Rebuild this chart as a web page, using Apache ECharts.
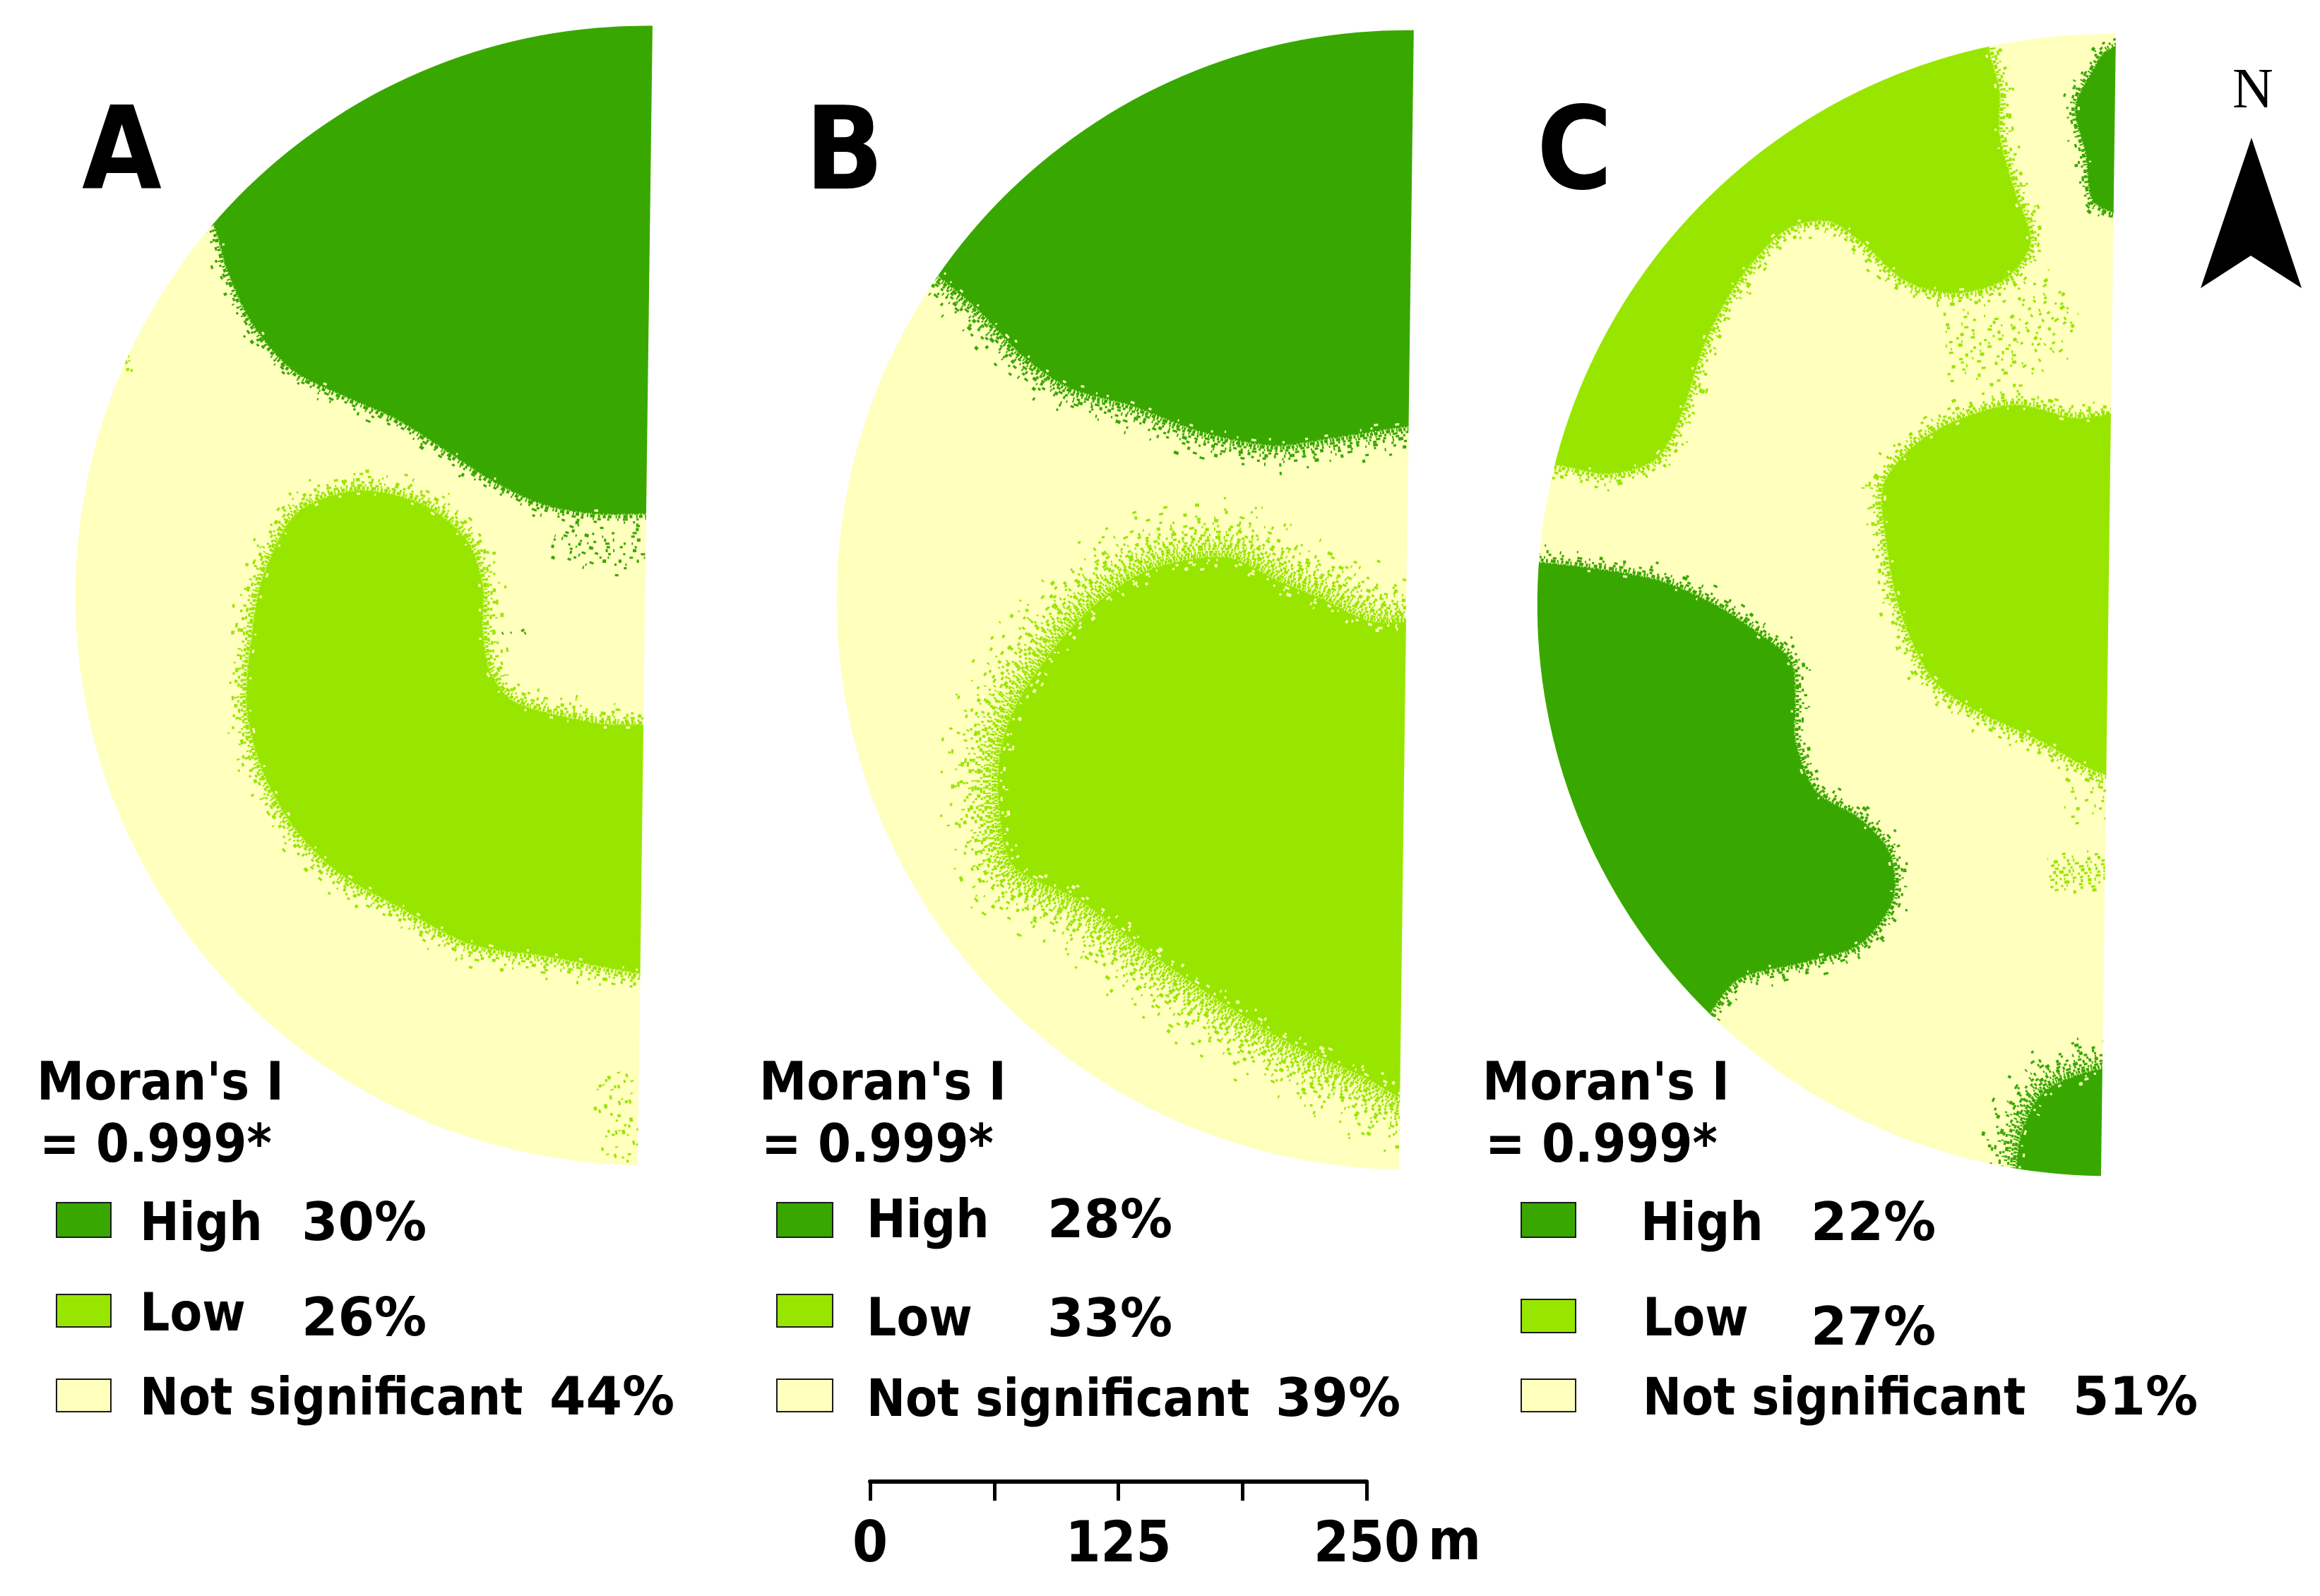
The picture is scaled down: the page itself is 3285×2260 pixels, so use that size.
<!DOCTYPE html>
<html><head><meta charset="utf-8">
<style>html,body{margin:0;padding:0;background:#fff}#c{width:3285px;height:2260px}</style>
<script src="https://cdn.jsdelivr.net/npm/echarts@6/dist/echarts.min.js"></script>
</head><body><div id="c"></div>
<script>
// ---- data: class names, shares and zone outlines (map units) ----
const legendNames = ['High', 'Low', 'Not significant'];
const panelNames = ['A', 'B', 'C'];
const shareA = [30, 26, 44];
const shareB = [28, 33, 39];
const shareC = [22, 27, 51];
const moranLine1 = "Moran's I";
const moranLine2 = '= 0.999*';
const scaleTicks = [0, 62.5, 125, 187.5, 250];
const discA = [436, 402.5, 385];
const discB = [950.5, 405.5, 385];
const discC = [1425, 409, 386];
const highA = [[130,140],[100,-20],[470,-20],[470,347],[437,347],[402,347],[368,341],[335,326],[301,304],[268,283],[234,268],[198,250],[171,219],[154,183],[144,151]];
const lowA = [[241,332],[285,341],[315,365],[326,396],[326,426],[331,454],[348,475],[402,489],[470,500],[470,662],[433,658],[368,646],[318,638],[268,612],[228,589],[198,558],[177,519],[167,477],[171,426],[178,390],[201,347]];
const highB = [[610,165],[590,-20],[990,-20],[990,288],[953,288],[925,292],[893,297],[861,301],[813,292],[765,274],[723,262],[691,240],[662,210],[634,186]];
const lowB = [[688,475],[704,450],[723,426],[749,402],[781,384],[829,377],[864,393],[893,405],[925,420],[985,430],[985,760],[947,742],[920,727],[870,704],[819,673],[769,638],[729,608],[685,585],[675,540],[677,505]];
const highC1 = [[1000,378],[1034,380],[1080,385],[1122,393],[1157,408],[1185,426],[1210,447],[1213,477],[1213,500],[1227,535],[1257,554],[1277,577],[1279,608],[1257,638],[1220,650],[1176,661],[1158,681],[1140,710],[1000,700]];
const highC2 = [[1425,34],[1414,49],[1403,73],[1410,104],[1414,134],[1425,142],[1460,145],[1460,28]];
const highC3 = [[1460,723],[1420,723],[1382,738],[1367,765],[1363,792],[1365,820],[1460,820]];
const lowC1 = [[1344,-20],[1344,33],[1351,61],[1351,91],[1361,128],[1372,164],[1354,189],[1319,198],[1287,189],[1259,164],[1235,149],[1207,155],[1182,180],[1164,207],[1150,237],[1136,280],[1119,310],[1087,320],[1052,314],[1010,312],[1010,-20]];
const lowC2 = [[1460,283],[1403,283],[1361,274],[1319,286],[1291,304],[1273,329],[1275,365],[1284,411],[1305,457],[1330,477],[1378,500],[1422,523],[1460,523]];
const speckHighA = [[375,362],[405,372],[436,372]];
const speckHighA2 = [[340,432],[362,420]];
const speckLowA = [[412,725],[420,755],[428,785]];
const speckDotA = [[85,240],[88,252]];
const speckLowC = [[1315,235],[1360,232],[1400,205]];
const speckLowC2 = [[1385,592],[1405,590],[1425,588]];
const speckLowC3 = [[1395,545],[1425,540]];

// ---- styles and layout ----
const HIGH = '#38A800', LOW = '#98E600', NOTSIG = '#FFFFBE';
const TILT = 0.745 * Math.PI / 180;
const FONT = '"DejaVu Sans Condensed","DejaVu Sans",sans-serif';
const FONT_NUM = '"DejaVu Sans",sans-serif';
const ON = [3,5,2,4,6,3,2,5,4,3,7,2];
const GAP = [1,.6,1.5,.8,1.2,.5,1.7,.9,1.1,1.4,.7,1.3];
const ROW = 4;            // px between stipple rows

function dashFor(p) {
  const out = [];
  const g = 3.8 * (1 / p - 1);
  ON.forEach((a, i) => { out.push(a, Math.max(1, GAP[i] * g)); });
  return out;
}
function offsetPts(pts, d, closed) {
  const n = pts.length, res = [];
  for (let i = 0; i < n; i++) {
    const a = pts[closed ? (i - 1 + n) % n : Math.max(i - 1, 0)];
    const b = pts[closed ? (i + 1) % n : Math.min(i + 1, n - 1)];
    const tx = b[0] - a[0], ty = b[1] - a[1], l = Math.hypot(tx, ty) || 1;
    res.push([pts[i][0] + d * ty / l, pts[i][1] - d * tx / l]);
  }
  return res;
}
function area(pts) {
  let s = 0;
  pts.forEach((p, i) => { const q = pts[(i + 1) % pts.length]; s += p[0] * q[1] - q[0] * p[1]; });
  return s;
}
function clipOf(api, disc) {
  const c = api.coord([disc[0], disc[1]]);
  const r = api.size([disc[2], 0])[0];
  return { type: 'sector', shape: { cx: c[0], cy: c[1], r0: 0, r, startAngle: Math.PI / 2 + TILT, endAngle: Math.PI * 1.5 + TILT, clockwise: true } };
}
function rowEl(pts, color, p, k, smooth, closed) {
  return {
    type: closed ? 'polygon' : 'polyline', shape: { points: pts, smooth },
    style: { fill: 'none', stroke: color, lineWidth: k % 3 === 1 ? 4.6 : 3.2, lineDash: dashFor(p), lineDashOffset: (k * 41) % 97, lineCap: 'butt', lineJoin: 'round' }
  };
}
function regionSeries(points, disc, color, fringe, smooth) {
  return {
    type: 'custom', xAxisIndex: 0, yAxisIndex: 0, clip: false, silent: true,
    data: points, encode: { x: 0, y: 1 },
    renderItem(params, api) {
      if (params.dataIndex !== 0) return null;
      const pts = points.map(p => api.coord(p));
      const unit = api.size([1, 0])[0];
      const sign = area(pts) > 0 ? 1 : -1;   // outward normal side
      const children = [];
      const fpx = fringe * unit;
      for (let k = 0, d = 0; d < fpx; k++, d += ROW) {
        const t = d / fpx;
        children.push(rowEl(offsetPts(pts, sign * d, true), color, Math.max(0.035, 0.8 * Math.pow(1 - t, 2)), k, smooth, true));
      }
      children.push({ type: 'polygon', shape: { points: pts, smooth }, style: { fill: color, stroke: null } });
      const inner = fpx * 0.22;
      for (let k = 1, d = ROW; d < inner; k++, d += ROW) {
        children.push(rowEl(offsetPts(pts, -sign * d, true), NOTSIG, Math.max(0.03, 0.22 * (1 - d / inner)), k + 7, smooth, true));
      }
      return { type: 'group', clipPath: clipOf(api, disc), children };
    }
  };
}
function speckSeries(points, disc, color, width, density) {
  return {
    type: 'custom', xAxisIndex: 0, yAxisIndex: 0, clip: false, silent: true,
    data: points, encode: { x: 0, y: 1 },
    renderItem(params, api) {
      if (params.dataIndex !== 0) return null;
      const pts = points.map(p => api.coord(p));
      const w = width * api.size([1, 0])[0];
      const children = [];
      for (let k = 0, d = -w / 2; d < w / 2; k++, d += ROW + 1) {
        const t = Math.abs(d) / (w / 2);
        children.push(rowEl(offsetPts(pts, d, false), color, Math.max(0.03, density * (1 - t * t)), k + 3, 0, false));
      }
      return { type: 'group', clipPath: clipOf(api, disc), children };
    }
  };
}
function discSeries(disc) {
  return {
    type: 'custom', xAxisIndex: 0, yAxisIndex: 0, clip: false, silent: true,
    data: [[disc[0], disc[1]]], encode: { x: 0, y: 1 },
    renderItem(params, api) {
      const cl = clipOf(api, disc);
      return { type: 'sector', shape: cl.shape, style: { fill: NOTSIG } };
    }
  };
}
function txt(s, x, base, size, family) {
  return {
    type: 'text', x, y: base - 0.266 * size, silent: true,
    style: { text: s, fill: '#000', font: 'bold ' + size + 'px ' + (family || FONT), align: 'left', verticalAlign: 'middle' }
  };
}
function swatch(x0, x1, y0, y1, fill) {
  return { type: 'rect', silent: true, shape: { x: x0, y: y0, width: x1 - x0, height: y1 - y0 }, style: { fill, stroke: '#1a1a1a', lineWidth: 2 } };
}
const layout = [
  { share: shareA, m1: 52, m2: 56, sw: [80, 157], swY: [[1703,1752],[1833,1879],[1953,1999]],
    nameX: [198,198,198], nameB: [1756,1884,2003], pctX: [427,427,778], pctB: [1756,1891,2003], letter: [116,268] },
  { share: shareB, m1: 1075, m2: 1078, sw: [1100, 1179], swY: [[1703,1752],[1833,1879],[1953,1999]],
    nameX: [1227,1227,1227], nameB: [1752,1891,2005], pctX: [1483,1483,1806], pctB: [1752,1892,2005], letter: [1140,268] },
  { share: shareC, m1: 2099, m2: 2103, sw: [2154, 2231], swY: [[1703,1752],[1840,1887],[1953,1999]],
    nameX: [2323,2326,2326], nameB: [1756,1891,2003], pctX: [2564,2564,2935], pctB: [1756,1904,2003], letter: [2176,268] }
];
const colors = [HIGH, LOW, NOTSIG];
const graphics = [];
layout.forEach((L, i) => {
  graphics.push(txt(panelNames[i], L.letter[0], L.letter[1], 162));
  graphics.push(txt(moranLine1, L.m1, 1557, 75));
  graphics.push(txt(moranLine2, L.m2, 1645, 75));
  legendNames.forEach((n, j) => {
    graphics.push(swatch(L.sw[0], L.sw[1], L.swY[j][0], L.swY[j][1], colors[j]));
    graphics.push(txt(n, L.nameX[j], L.nameB[j], j === 2 ? 73 : 74));
    graphics.push(txt(L.share[j] + '%', L.pctX[j], L.pctB[j], 74, FONT_NUM));
  });
});
graphics.push(txt('m', 2022, 2208, 80));
graphics.push({ type: 'text', x: 3161, y: 131, silent: true, style: { text: 'N', fill: '#000', font: '80px "Liberation Serif",serif', align: 'left', verticalAlign: 'middle' } });
graphics.push({ type: 'polygon', silent: true, shape: { points: [[3188,195],[3259,408],[3187,362],[3116,408]] }, style: { fill: '#000' } });

const chart = echarts.init(document.getElementById('c'), null, { renderer: 'canvas' });
chart.setOption({
  animation: false,
  backgroundColor: '#fff',
  grid: [
    { left: 0, right: 0, top: 0, bottom: 0 },
    { left: 1232, width: 703, top: 2097, height: 1 }
  ],
  xAxis: [
    { type: 'value', gridIndex: 0, min: 0, max: 1568, show: false },
    { type: 'value', gridIndex: 1, min: 0, max: 250, interval: 62.5, position: 'bottom',
      axisLine: { show: true, onZero: false, lineStyle: { color: '#000', width: 6 } },
      axisTick: { show: true, length: 27, lineStyle: { color: '#000', width: 5 } },
      splitLine: { show: false },
      axisLabel: { show: true, margin: 52, color: '#000', fontWeight: 'bold', fontSize: 80, fontFamily: FONT,
        showMinLabel: true, showMaxLabel: true, hideOverlap: false, lineHeight: 80,
        formatter: v => (scaleTicks.indexOf(v) % 2 === 0 ? String(v) : '') } }
  ],
  yAxis: [
    { type: 'value', gridIndex: 0, min: 0, max: 1079, inverse: true, show: false },
    { type: 'value', gridIndex: 1, min: 0, max: 1, show: false }
  ],
  graphic: { elements: graphics },
  series: [
    discSeries(discA), discSeries(discB), discSeries(discC),
    regionSeries(highA, discA, HIGH, 10, 0.3),
    regionSeries(lowA, discA, LOW, 16, 0.3),
    regionSeries(highB, discB, HIGH, 20, 0.3),
    regionSeries(lowB, discB, LOW, 42, 0.3),
    regionSeries(highC1, discC, HIGH, 12, 0.3),
    regionSeries(highC2, discC, HIGH, 10, 0.3),
    regionSeries(highC3, discC, HIGH, 28, 0.3),
    regionSeries(lowC1, discC, LOW, 13, 0.3),
    regionSeries(lowC2, discC, LOW, 14, 0.3),
    speckSeries(speckHighA, discA, HIGH, 34, 0.2),
    speckSeries(speckHighA2, discA, HIGH, 12, 0.1),
    speckSeries(speckLowA, discA, LOW, 36, 0.14),
    speckSeries(speckDotA, discA, LOW, 7, 0.4),
    speckSeries(speckLowC, discC, LOW, 60, 0.16),
    speckSeries(speckLowC2, discC, LOW, 30, 0.4),
    speckSeries(speckLowC3, discC, LOW, 40, 0.1)
  ]
});
</script></body></html>
